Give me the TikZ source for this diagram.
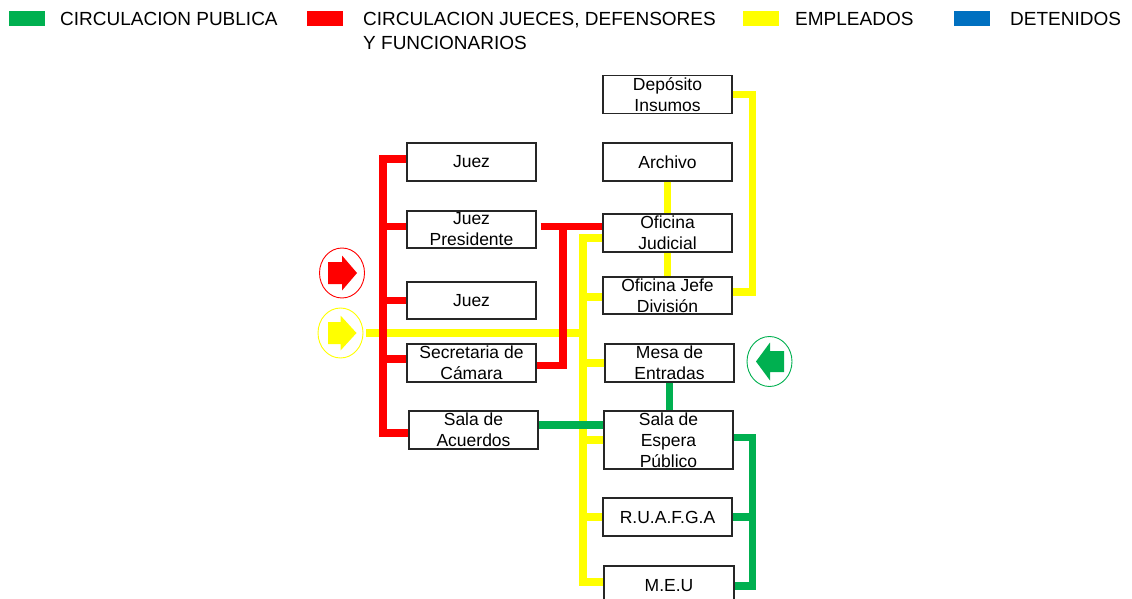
\documentclass[tikz,border=0pt]{standalone}
\usepackage{fontspec}
\setmainfont{Liberation Sans}
\usetikzlibrary{shapes.geometric}
\definecolor{cgreen}{HTML}{00B050}
\definecolor{cred}{HTML}{FF0000}
\definecolor{cyellow}{HTML}{FFFF00}
\definecolor{cblue}{HTML}{0070C0}
\begin{document}
\begin{tikzpicture}[x=1pt,y=-1pt,
  room/.style={draw=black!85, line width=1.2pt, fill=white, minimum width=129pt,
    minimum height=38pt, inner sep=0pt, align=center, font=\fontsize{17.5}{21}\selectfont},
  yline/.style={draw=cyellow, line width=7.5pt},
  rline/.style={draw=cred, line width=7.5pt},
  gline/.style={draw=cgreen, line width=7.5pt},
  legtext/.style={inner sep=0pt, font=\fontsize{19}{24}\selectfont},
  flowcirc/.style={ellipse, line width=0.9pt, minimum width=45pt, minimum height=50pt, inner sep=0pt}]
\clip (0,0) rectangle (1132,599);
\fill[white] (0,0) rectangle (1132,599);

% legend
\fill[cgreen] (9,11) rectangle (45,25.7);
\node[legtext, anchor=west] (l1) at (60,19) {CIRCULACION PUBLICA};
\fill[cred] (307,11) rectangle (343,25.7);
\node[legtext, anchor=north west, align=left] (l2) at (363,12.3) {CIRCULACION JUECES, DEFENSORES\\Y FUNCIONARIOS};
\fill[cyellow] (743,11) rectangle (779,25.7);
\node[legtext, anchor=west] (l3) at (795,19) {EMPLEADOS};
\fill[cblue] (954,11) rectangle (990,25.7);
\node[legtext, anchor=west] (l4) at (1010,19) {DETENIDOS};

% rooms
\node[room] (dep) at (667.5,94.5) {Depósito\\Insumos};
\node[room] (arc) at (667.5,162) {Archivo};
\node[room] (j1) at (471.5,162) {Juez};
\node[room, minimum height=37pt] (jp) at (471.5,229.5) {Juez\\Presidente};
\node[room] (oj) at (667.5,233) {Oficina\\Judicial};
\node[room, minimum height=37pt] (ojd) at (667.5,295.5) {Oficina Jefe\\División};
\node[room, minimum height=37pt] (j2) at (471.5,300.5) {Juez};
\node[room] (sec) at (471.5,363) {Secretaria de\\Cámara};
\node[room] (me) at (669.5,363) {Mesa de\\Entradas};
\node[room] (sa) at (473.5,430) {Sala de\\Acuerdos};
\node[room, minimum height=58pt] (se) at (668.5,440) {Sala de\\Espera\\Público};
\node[room] (ru) at (667.5,517) {R.U.A.F.G.A};
\node[room, minimum width=130pt, minimum height=40pt] (meu) at (669,586) {M.E.U};

% entry circles
\node[flowcirc, draw=cred] (rc) at (342,273) {};
\fill[cred, shift={(rc.center)}] (-14,-11) -- (0,-11) -- (0,-17.5) -- (15,0) -- (0,17.5) -- (0,11) -- (-14,11) -- cycle;
\node[flowcirc, draw=cyellow] (yc) at (340.5,333) {};
\fill[cyellow, shift={(yc.center)}] (-12.5,-11) -- (0,-11) -- (0,-17.5) -- (16,0) -- (0,17.5) -- (0,11) -- (-12.5,11) -- cycle;
\node[flowcirc, draw=cgreen] (gc) at (769.5,361.5) {};
\fill[cgreen, shift={(gc.center)}] (14.5,-10.5) -- (0.5,-10.5) -- (0.5,-19) -- (-13.5,0) -- (0.5,19) -- (0.5,10.5) -- (14.5,10.5) -- cycle;

% bus helper coordinates
\coordinate (rb) at (383,0);
\coordinate (rv) at (563,0);
\coordinate (yb) at (583,0);
\coordinate (yr) at (752.5,0);
\coordinate (gr) at (752.5,0);

% yellow (employees)
\draw[yline] ([yshift=-5pt]oj.west) -- ([yshift=-5pt]oj.west -| yb) -- ([yshift=4pt]meu.west -| yb) -- ([yshift=4pt]meu.west);
\draw[yline] ([yshift=-1.5pt]ojd.west) -- ([yshift=-1.5pt]ojd.west -| yb);
\draw[yline] (me.west) -- (me.west -| yb);
\draw[yline] (se.west) -- (se.west -| yb);
\draw[yline] (ru.west) -- (ru.west -| yb);
\draw[yline] ([xshift=3pt]yc.east) -- ([xshift=3pt]yc.east -| yb);
\draw[yline] (arc.south) -- (oj.north);
\draw[yline] (oj.south) -- (ojd.north);
\draw[yline] (dep.east) -| ([yshift=3.5pt]ojd.east -| yr) -- ([yshift=3.5pt]ojd.east);

% red (judges)
\draw[rline] ([yshift=3pt]j1.west) -| ([yshift=-3pt]sa.west -| rb) -- ([yshift=-3pt]sa.west);
\draw[rline] ([yshift=3pt]jp.west) -- ([yshift=3pt]jp.west -| rb);
\draw[rline] (j2.west) -- (j2.west -| rb);
\draw[rline] ([yshift=4pt]sec.west) -- ([yshift=4pt]sec.west -| rb);
\draw[rline] ([shift={(4pt,3pt)}]jp.east) -- ([yshift=3pt]jp.east -| oj.west);
\draw[rline] ([yshift=3pt]jp.east -| rv) |- ([yshift=-2.5pt]sec.east);

% green (public)
\draw[gline] (me.south) -- (me.south |- se.north);
\draw[gline] ([yshift=5pt]sa.east) -- ([yshift=5pt]sa.east -| se.west);
\draw[gline] ([yshift=2.5pt]se.east) -| (meu.east -| gr) -- (meu.east);
\draw[gline] (ru.east) -- (ru.east -| gr);
\end{tikzpicture}
\end{document}
